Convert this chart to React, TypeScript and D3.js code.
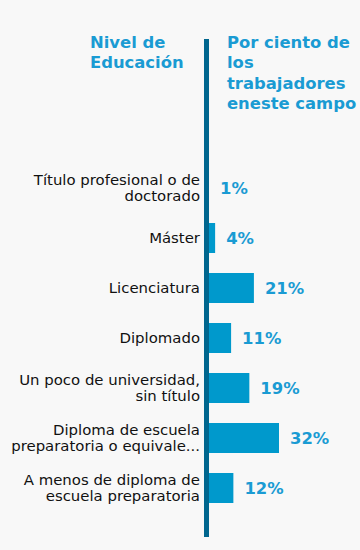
import React from "react";
import * as d3 from "d3";

const categories: string[][] = [
  ["Título profesional o de", "doctorado"],
  ["Máster"],
  ["Licenciatura"],
  ["Diplomado"],
  ["Un poco de universidad,", "sin título"],
  ["Diploma de escuela", "preparatoria o equivale..."],
  ["A menos de diploma de", "escuela preparatoria"],
];
const values: number[] = [1, 4, 21, 11, 19, 32, 12];
const leftHeader: string[] = ["Nivel de", "Educación"];
const rightHeader: string[] = ["Por ciento de", "los", "trabajadores", "eneste campo"];

const W = 360;
const H = 550;
const axisX = 204;
const axisW = 5;
const barX0 = 206;
const font = "'DejaVu Sans', Verdana, sans-serif";

export default function App() {
  const x = d3.scaleLinear().domain([0, 32]).range([barX0, 279]);
  const y = d3
    .scaleBand<number>()
    .domain(d3.range(values.length))
    .range([163, 513])
    .paddingInner(0.4)
    .paddingOuter(0.2);
  return (
    <svg
      width={W}
      height={H}
      style={{ position: "absolute", left: 0, top: 0, background: "#f8f8f8" }}
      fontFamily={font}
    >
      <rect x={0} y={0} width={W} height={H} fill="#f8f8f8" />
      {leftHeader.map((t, i) => (
        <text key={"l" + i} x={90} y={47.5 + i * 20.5} fontSize={16.4} fontWeight="bold" fill="#1a9bd3">
          {t}
        </text>
      ))}
      {rightHeader.map((t, i) => (
        <text key={"r" + i} x={227} y={47.5 + i * 20.5} fontSize={16.4} fontWeight="bold" fill="#1a9bd3">
          {t}
        </text>
      ))}
      {values.map((v, i) => {
        const yc = (y(i) as number) + y.bandwidth() / 2;
        const lines = categories[i];
        const labelX = Math.max(x(v), axisX + axisW) + 11;
        return (
          <g key={i}>
            <rect x={barX0} y={y(i)} width={x(v) - barX0} height={y.bandwidth()} fill="#0099cc" />
            {lines.map((l, j) => (
              <text
                key={j}
                x={200}
                y={lines.length === 1 ? yc + 5 : yc - 3.5 + j * 16.5}
                textAnchor="end"
                fontSize={14.9}
                fill="#111"
              >
                {l}
              </text>
            ))}
            <text x={labelX} y={yc + 6} fontSize={16.4} fontWeight="bold" fill="#1a9bd3">
              {v}%
            </text>
          </g>
        );
      })}
      <rect x={axisX} y={39} width={axisW} height={498} fill="#00668e" />
    </svg>
  );
}
